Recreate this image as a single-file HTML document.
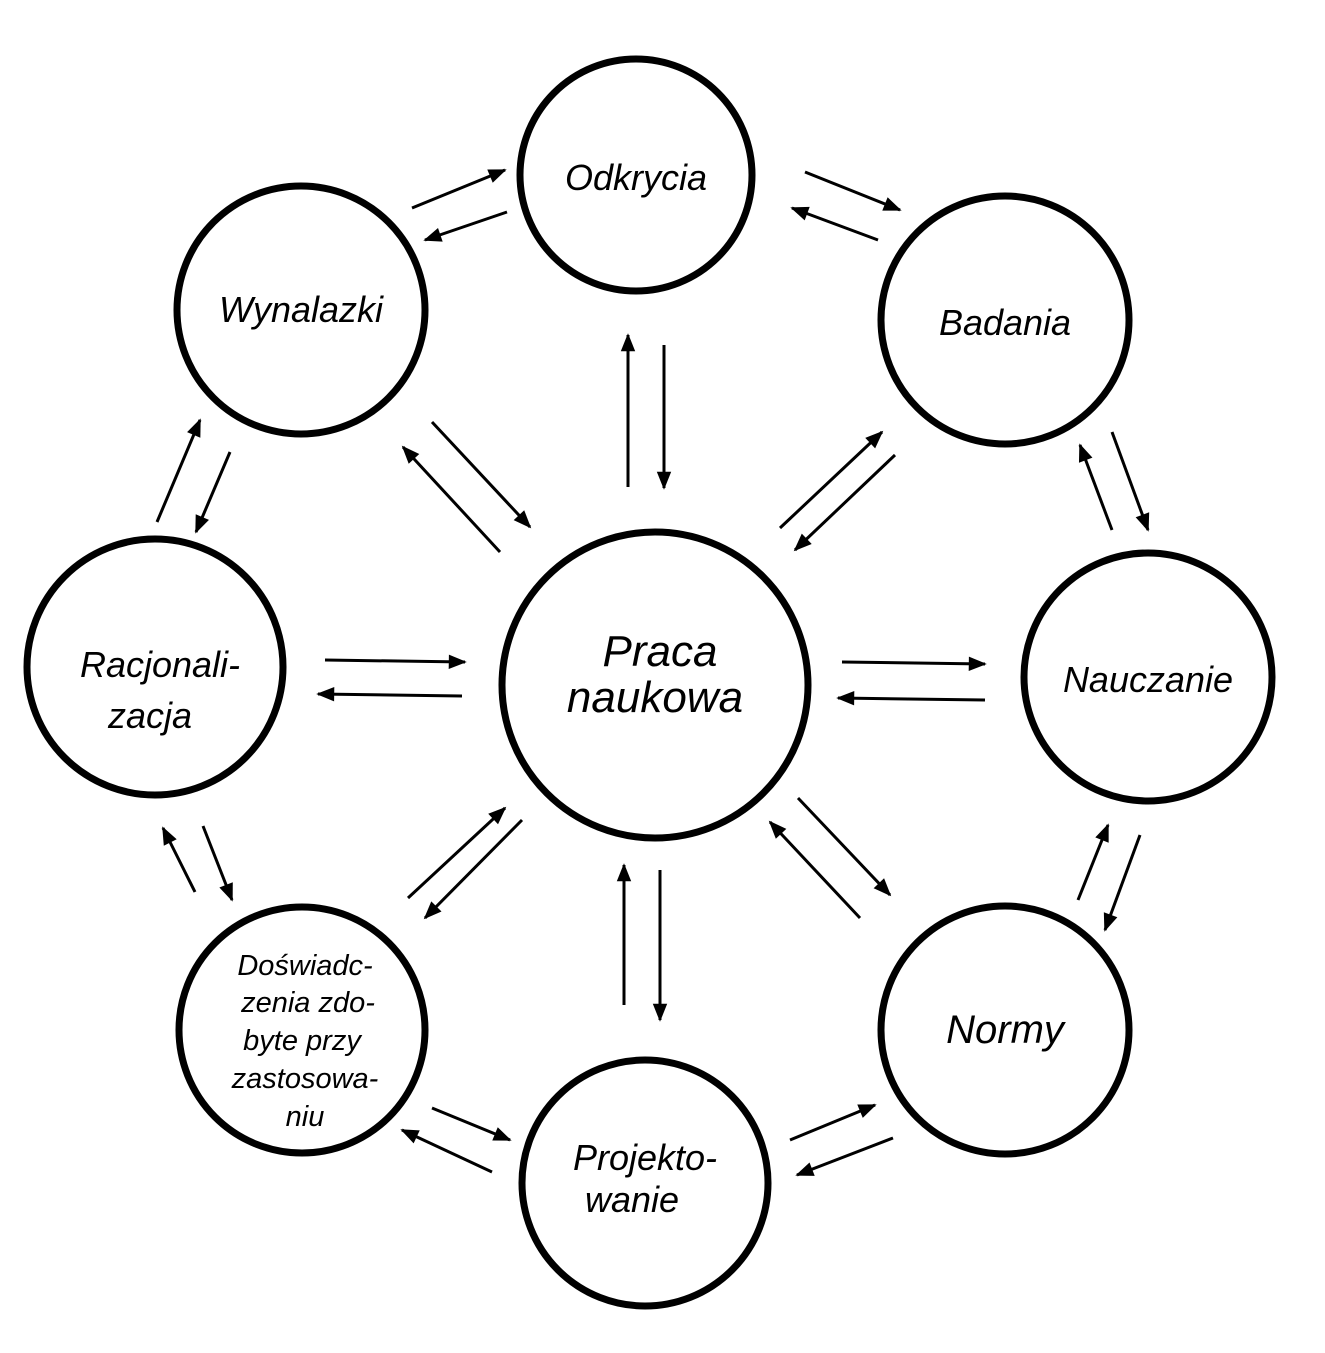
<!DOCTYPE html>
<html><head><meta charset="utf-8"><style>
html,body{margin:0;padding:0;background:#fff;}
svg{display:block}
text{font-family:"Liberation Sans","DejaVu Sans",sans-serif;font-style:italic;fill:#000;text-anchor:middle;}
</style></head><body>
<svg width="1325" height="1353" viewBox="0 0 1325 1353" xmlns="http://www.w3.org/2000/svg">
<defs>
<marker id="a" viewBox="0 0 10 10" refX="9" refY="5" markerWidth="9" markerHeight="6" orient="auto" markerUnits="strokeWidth">
<path d="M0,1 L10,5 L0,9 z" fill="#000"/></marker>
</defs>
<g fill="none" stroke="#000" stroke-width="7">
<circle cx="636" cy="175" r="116"/>
<circle cx="301" cy="310" r="124"/>
<circle cx="1005" cy="320" r="124"/>
<circle cx="155" cy="667" r="128"/>
<circle cx="655" cy="685" r="153"/>
<circle cx="1148" cy="677" r="124"/>
<circle cx="302" cy="1030" r="123"/>
<circle cx="1005" cy="1030" r="124"/>
<circle cx="645" cy="1183" r="123"/>
</g>
<g stroke="#000" stroke-width="3" marker-end="url(#a)">
<line x1="412" y1="208" x2="505" y2="170"/>
<line x1="507" y1="212" x2="425" y2="240"/>
<line x1="805" y1="172" x2="900" y2="210"/>
<line x1="878" y1="240" x2="792" y2="208"/>
<line x1="628" y1="487" x2="628" y2="335"/>
<line x1="664" y1="345" x2="664" y2="488"/>
<line x1="500" y1="552" x2="403" y2="447"/>
<line x1="432" y1="422" x2="530" y2="527"/>
<line x1="780" y1="528" x2="882" y2="432"/>
<line x1="895" y1="455" x2="795" y2="550"/>
<line x1="1112" y1="530" x2="1080" y2="445"/>
<line x1="1112" y1="432" x2="1148" y2="530"/>
<line x1="157" y1="522" x2="200" y2="420"/>
<line x1="230" y1="452" x2="196" y2="532"/>
<line x1="325" y1="660" x2="465" y2="662"/>
<line x1="462" y1="696" x2="318" y2="694"/>
<line x1="842" y1="662" x2="985" y2="664"/>
<line x1="985" y1="700" x2="838" y2="698"/>
<line x1="195" y1="892" x2="163" y2="828"/>
<line x1="203" y1="826" x2="232" y2="900"/>
<line x1="408" y1="898" x2="505" y2="808"/>
<line x1="522" y1="820" x2="425" y2="918"/>
<line x1="624" y1="1005" x2="624" y2="865"/>
<line x1="660" y1="870" x2="660" y2="1020"/>
<line x1="860" y1="918" x2="770" y2="822"/>
<line x1="798" y1="798" x2="890" y2="895"/>
<line x1="1078" y1="900" x2="1108" y2="825"/>
<line x1="1140" y1="835" x2="1105" y2="930"/>
<line x1="432" y1="1108" x2="510" y2="1140"/>
<line x1="492" y1="1172" x2="402" y2="1130"/>
<line x1="790" y1="1140" x2="875" y2="1105"/>
<line x1="893" y1="1138" x2="797" y2="1175"/>
</g>
<text x="636" y="190" font-size="36">Odkrycia</text>
<text x="301" y="322" font-size="36">Wynalazki</text>
<text x="1005" y="335" font-size="36">Badania</text>
<text x="160" y="677" font-size="36">Racjonali-</text>
<text x="150" y="728" font-size="36">zacja</text>
<text x="660" y="666" font-size="44">Praca</text>
<text x="655" y="712" font-size="44">naukowa</text>
<text x="1148" y="692" font-size="36">Nauczanie</text>
<text x="1005" y="1043" font-size="40">Normy</text>
<text x="645" y="1170" font-size="36">Projekto-</text>
<text x="632" y="1212" font-size="36">wanie</text>
<text x="305" y="975" font-size="29">Doświadc-</text>
<text x="308" y="1012" font-size="29">zenia zdo-</text>
<text x="302" y="1050" font-size="29">byte przy</text>
<text x="305" y="1088" font-size="29">zastosowa-</text>
<text x="305" y="1126" font-size="29">niu</text>
</svg>
</body></html>
